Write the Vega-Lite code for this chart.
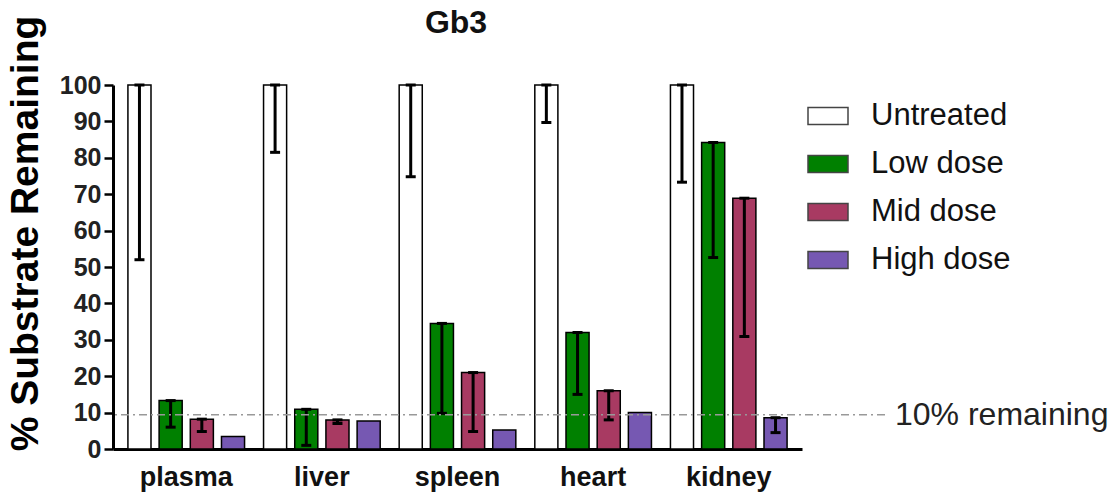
{
  "$schema": "https://vega.github.io/schema/vega-lite/v6.json",
  "width": 772,
  "height": 364,
  "autosize": {"type": "none"},
  "padding": {"left": 113, "top": 85, "right": 235, "bottom": 48},
  "config": {
    "font": "Liberation Sans",
    "view": {"stroke": null},
    "axisY": {
      "titleFontSize": 39, "titleFontWeight": "bold", "titleColor": "#000",
      "titleY": 148, "titlePadding": 14, "labelOverlap": false,
      "labelFontSize": 25, "labelFontWeight": "bold", "labelColor": "#222",
      "tickSize": 9, "tickWidth": 2.5, "tickColor": "#000",
      "domainWidth": 3, "domainColor": "#000", "grid": false, "labelPadding": 3
    },
    "axisX": {
      "labelFontSize": 27, "labelFontWeight": "bold", "labelColor": "#111", "ticks": false,
      "domainWidth": 3, "domainColor": "#000", "labelPadding": 15, "labelAngle": 0, "grid": false
    }
  },
  "title": {"text": "Gb3", "fontSize": 32, "fontWeight": "bold", "color": "#111", "offset": -25, "dx": -43, "anchor": "middle", "frame": "group"},
  "data": {
    "values": [
      {"tissue": "plasma", "treatment": "Untreated", "value": 100, "low": 52},
      {"tissue": "plasma", "treatment": "Low dose", "value": 13.3, "low": 6},
      {"tissue": "plasma", "treatment": "Mid dose", "value": 8.2, "low": 4.8},
      {"tissue": "plasma", "treatment": "High dose", "value": 3.4, "low": null},
      {"tissue": "liver", "treatment": "Untreated", "value": 100, "low": 81.5},
      {"tissue": "liver", "treatment": "Low dose", "value": 10.9, "low": 1},
      {"tissue": "liver", "treatment": "Mid dose", "value": 8.0, "low": 7.0},
      {"tissue": "liver", "treatment": "High dose", "value": 7.7, "low": null},
      {"tissue": "spleen", "treatment": "Untreated", "value": 100, "low": 74.8},
      {"tissue": "spleen", "treatment": "Low dose", "value": 34.5, "low": 9.8},
      {"tissue": "spleen", "treatment": "Mid dose", "value": 21.0, "low": 4.8},
      {"tissue": "spleen", "treatment": "High dose", "value": 5.2, "low": null},
      {"tissue": "heart", "treatment": "Untreated", "value": 100, "low": 89.7},
      {"tissue": "heart", "treatment": "Low dose", "value": 32.0, "low": 15.0},
      {"tissue": "heart", "treatment": "Mid dose", "value": 16.0, "low": 8.0},
      {"tissue": "heart", "treatment": "High dose", "value": 10.0, "low": null},
      {"tissue": "kidney", "treatment": "Untreated", "value": 100, "low": 73.3},
      {"tissue": "kidney", "treatment": "Low dose", "value": 84.2, "low": 52.6},
      {"tissue": "kidney", "treatment": "Mid dose", "value": 68.9, "low": 30.9},
      {"tissue": "kidney", "treatment": "High dose", "value": 8.6, "low": 4.5}
    ]
  },
  "layer": [
    {
      "mark": {"type": "bar", "stroke": "#000", "strokeWidth": 1.5},
      "encoding": {
        "x": {
          "field": "tissue", "type": "nominal", "title": null,
          "sort": ["plasma", "liver", "spleen", "heart", "kidney"],
          "scale": {"rangeMax": 689, "paddingInner": 0.14, "paddingOuter": 0.11}
        },
        "xOffset": {
          "field": "treatment", "type": "nominal",
          "scale": {"domain": ["Untreated", "Low dose", "Mid dose", "High dose"], "paddingInner": 0.26}
        },
        "y": {
          "field": "value", "type": "quantitative", "title": "% Substrate Remaining",
          "scale": {"domain": [0, 100], "nice": false},
          "axis": {"values": [0, 10, 20, 30, 40, 50, 60, 70, 80, 90, 100], "tickCount": 11}
        },
        "color": {
          "field": "treatment", "type": "nominal",
          "scale": {"domain": ["Untreated", "Low dose", "Mid dose", "High dose"], "range": ["#ffffff", "#008000", "#a83a62", "#7658b2"]},
          "legend": {
            "title": null, "orient": "none", "legendX": 694, "legendY": 10,
            "symbolType": "M-1,-0.42H1V0.42H-1Z", "symbolSize": 1600,
            "symbolStrokeColor": "#444", "symbolStrokeWidth": 1.5, "symbolOpacity": 1,
            "labelFontSize": 31, "labelColor": "#111", "labelOffset": 22, "rowPadding": 12, "padding": 0
          }
        }
      }
    },
    {
      "transform": [{"filter": "datum.low != null"}],
      "mark": {"type": "rule", "strokeWidth": 3, "color": "#000"},
      "encoding": {
        "x": {"field": "tissue", "type": "nominal", "title": null, "sort": ["plasma", "liver", "spleen", "heart", "kidney"]},
        "xOffset": {"field": "treatment", "type": "nominal"},
        "y": {"field": "value", "type": "quantitative", "title": "% Substrate Remaining", "axis": {"values": [0, 10, 20, 30, 40, 50, 60, 70, 80, 90, 100], "tickCount": 11}},
        "y2": {"field": "low"}
      }
    },
    {
      "transform": [{"filter": "datum.low != null"}],
      "mark": {"type": "tick", "thickness": 3, "size": 10, "color": "#000", "opacity": 1},
      "encoding": {
        "x": {"field": "tissue", "type": "nominal", "title": null, "sort": ["plasma", "liver", "spleen", "heart", "kidney"]},
        "xOffset": {"field": "treatment", "type": "nominal"},
        "y": {"field": "low", "type": "quantitative", "title": "% Substrate Remaining", "axis": {"values": [0, 10, 20, 30, 40, 50, 60, 70, 80, 90, 100], "tickCount": 11}}
      }
    },
    {
      "transform": [{"filter": "datum.low != null"}],
      "mark": {"type": "tick", "thickness": 3, "size": 10, "color": "#000", "opacity": 1},
      "encoding": {
        "x": {"field": "tissue", "type": "nominal", "title": null, "sort": ["plasma", "liver", "spleen", "heart", "kidney"]},
        "xOffset": {"field": "treatment", "type": "nominal"},
        "y": {"field": "value", "type": "quantitative", "title": "% Substrate Remaining", "axis": {"values": [0, 10, 20, 30, 40, 50, 60, 70, 80, 90, 100], "tickCount": 11}}
      }
    },
    {
      "data": {"values": [{"ref": 9.4, "label": "10% remaining"}]},
      "mark": {"type": "rule", "strokeDash": [8, 4, 2, 4], "color": "#999", "strokeWidth": 1.5},
      "encoding": {"y": {"field": "ref", "type": "quantitative", "title": "% Substrate Remaining", "axis": {"values": [0, 10, 20, 30, 40, 50, 60, 70, 80, 90, 100], "tickCount": 11}}}
    },
    {
      "data": {"values": [{"ref": 9.4, "label": "10% remaining"}]},
      "mark": {"type": "text", "align": "left", "baseline": "middle", "dx": 10, "fontSize": 32, "color": "#222"},
      "encoding": {
        "y": {"field": "ref", "type": "quantitative", "title": "% Substrate Remaining", "axis": {"values": [0, 10, 20, 30, 40, 50, 60, 70, 80, 90, 100], "tickCount": 11}},
        "x": {"value": {"expr": "width"}},
        "text": {"field": "label"}
      }
    }
  ]
}
